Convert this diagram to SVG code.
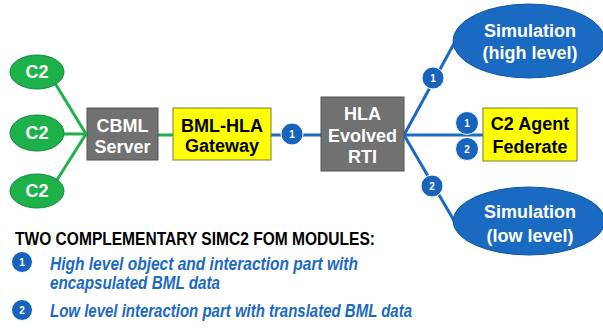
<svg xmlns="http://www.w3.org/2000/svg" width="603" height="335" viewBox="0 0 603 335">
  <style>
    .lbl { font-family: "Liberation Sans", Arial, sans-serif; font-weight: bold; font-size: 18px; text-anchor: middle; }
    .wh { fill: #ffffff; }
    .bk { fill: #000000; }
    .c2 { fill: #1db14a; stroke: #12893a; stroke-width: 1; }
    .gray { fill: #717171; stroke: #555555; stroke-width: 1; }
    .yel { fill: #ffff00; stroke: #7a7a40; stroke-width: 1; }
    .sim { fill: #1b6ac2; stroke: #14579f; stroke-width: 1; }
    .badge circle { fill: #1864bd; stroke: #ffffff; stroke-width: 1; }
    .badge text { font-family: "Liberation Sans", Arial, sans-serif; font-weight: bold; font-size: 10px; fill: #ffffff; text-anchor: middle; }
    .gline { stroke: #1db14a; stroke-width: 3; fill: none; }
    .bline { stroke: #1b6ac2; stroke-width: 3; fill: none; }
    .title { font-family: "Liberation Sans", Arial, sans-serif; font-weight: bold; font-size: 17.5px; fill: #000000; }
    .item { font-family: "Liberation Sans", Arial, sans-serif; font-weight: bold; font-style: italic; font-size: 18px; fill: #1b6ac2; }
  </style>

  <g id="connectors">
    <line class="gline" x1="50" y1="75" x2="86" y2="134"/>
    <line class="gline" x1="50" y1="134" x2="86" y2="134"/>
    <line class="gline" x1="50" y1="191" x2="86" y2="134"/>
    <line class="gline" x1="158" y1="135" x2="173" y2="135"/>
    <line class="bline" x1="271" y1="135" x2="321" y2="135"/>
    <line class="bline" x1="404" y1="135" x2="456" y2="40"/>
    <line class="bline" x1="404" y1="135" x2="483" y2="135"/>
    <line class="bline" x1="404" y1="135" x2="456" y2="224"/>
  </g>

  <g id="c2-1">
    <ellipse class="c2" cx="37" cy="72" rx="27" ry="17"/>
    <text class="lbl wh" x="37" y="78">C2</text>
  </g>
  <g id="c2-2">
    <ellipse class="c2" cx="37" cy="133" rx="27" ry="18"/>
    <text class="lbl wh" x="37" y="139">C2</text>
  </g>
  <g id="c2-3">
    <ellipse class="c2" cx="37" cy="191" rx="27" ry="17"/>
    <text class="lbl wh" x="37" y="197">C2</text>
  </g>

  <g id="cbml-server">
    <rect class="gray" x="87" y="108" width="71" height="52"/>
    <text class="lbl wh" x="122.5" y="132">CBML</text>
    <text class="lbl wh" x="122.5" y="153">Server</text>
  </g>

  <g id="bml-hla-gateway">
    <rect class="yel" x="173" y="108" width="98" height="52"/>
    <text class="lbl bk" x="222" y="132">BML-HLA</text>
    <text class="lbl bk" x="222" y="152">Gateway</text>
  </g>

  <g id="hla-rti">
    <rect class="gray" x="321" y="97" width="83" height="74"/>
    <text class="lbl wh" x="362.5" y="120">HLA</text>
    <text class="lbl wh" x="362.5" y="142">Evolved</text>
    <text class="lbl wh" x="362.5" y="163">RTI</text>
  </g>

  <g id="sim-high">
    <ellipse class="sim" cx="529" cy="41" rx="76" ry="37"/>
    <text class="lbl wh" x="530" y="37">Simulation</text>
    <text class="lbl wh" x="530" y="59">(high level)</text>
  </g>

  <g id="c2-agent-federate">
    <rect class="yel" x="483" y="108" width="94" height="53"/>
    <text class="lbl bk" x="530" y="130">C2 Agent</text>
    <text class="lbl bk" x="530" y="153">Federate</text>
  </g>

  <g id="sim-low">
    <ellipse class="sim" cx="529" cy="221" rx="76" ry="34"/>
    <text class="lbl wh" x="530" y="218">Simulation</text>
    <text class="lbl wh" x="530" y="242">(low level)</text>
  </g>

  <g id="badges">
    <g class="badge"><circle cx="292" cy="134" r="11"/><text x="292" y="138">1</text></g>
    <g class="badge"><circle cx="433" cy="78" r="11"/><text x="433" y="82">1</text></g>
    <g class="badge"><circle cx="432" cy="186" r="11"/><text x="432" y="190">2</text></g>
    <g class="badge"><circle cx="467" cy="123" r="11.5"/><text x="467" y="127">1</text></g>
    <g class="badge"><circle cx="467" cy="149" r="11.5"/><text x="467" y="153">2</text></g>
  </g>

  <g id="legend">
    <text class="title" x="15" y="245" textLength="360" lengthAdjust="spacingAndGlyphs">TWO COMPLEMENTARY SIMC2 FOM MODULES:</text>
    <g class="badge"><circle cx="22" cy="262" r="10.5"/><text x="22" y="266">1</text></g>
    <text class="item" x="50" y="270" textLength="308" lengthAdjust="spacingAndGlyphs">High level object and interaction part with</text>
    <text class="item" x="50" y="289" textLength="170" lengthAdjust="spacingAndGlyphs">encapsulated BML data</text>
    <g class="badge"><circle cx="22" cy="310" r="10.5"/><text x="22" y="314">2</text></g>
    <text class="item" x="50" y="317" textLength="362" lengthAdjust="spacingAndGlyphs">Low level interaction part with translated BML data</text>
  </g>
</svg>
